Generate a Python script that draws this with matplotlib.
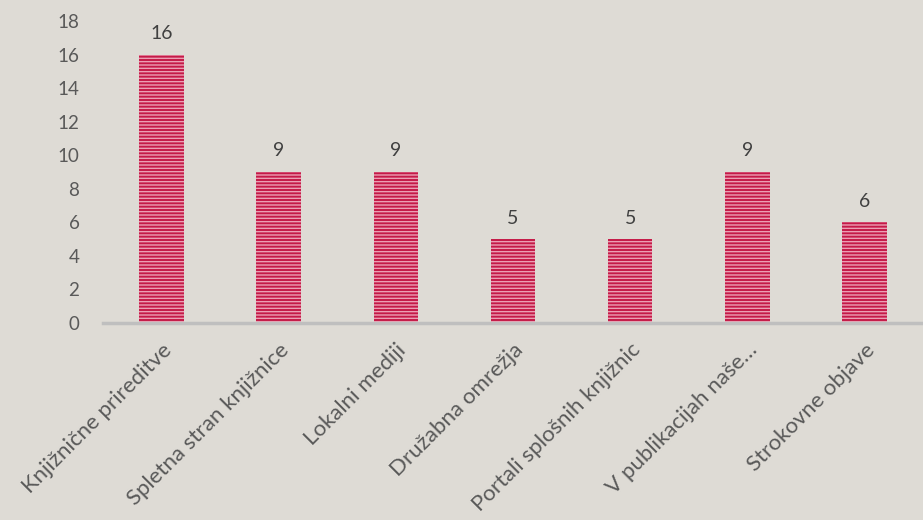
import matplotlib
matplotlib.use("Agg")
import matplotlib.pyplot as plt

plt.rcParams['font.family'] = ['Lato', 'DejaVu Sans']
plt.rcParams['hatch.linewidth'] = 1.0

categories = ["Knjižnične prireditve", "Spletna stran knjižnice", "Lokalni mediji",
              "Družabna omrežja", "Portali splošnih knjižnic",
              "V publikacijah naše…", "Strokovne objave"]
values = [16, 9, 9, 5, 5, 9, 6]
yticks = [0, 2, 4, 6, 8, 10, 12, 14, 16, 18]

bg = '#dedbd5'
fig = plt.figure(figsize=(9.23, 5.2), dpi=100, facecolor=bg)
ax = fig.add_axes([103 / 923, 197 / 520, 820 / 923, 302 / 520])
ax.set_facecolor(bg)

x = range(len(categories))
bars = ax.bar(x, values, width=0.38, color='#c41a48', edgecolor='#eb9fb3',
              linewidth=0, hatch='-----')

for xi, v in zip(x, values):
    ax.text(xi, v + 0.75, str(v), ha='center', va='bottom', fontsize=14, color='#404040')

ax.set_xlim(-0.5, len(categories) - 0.5)
ax.set_ylim(0, 18)
ax.set_yticks(yticks)
ax.set_yticklabels([str(t) for t in yticks], fontsize=13.5, color='#595959')
ax.set_xticks(list(x))
ax.set_xticklabels(categories, rotation=45, ha='right', rotation_mode='anchor',
                   fontsize=16, color='#595959')
ax.tick_params(axis='both', length=0)
ax.tick_params(axis='y', pad=17)
ax.tick_params(axis='x', pad=12)

for s in ['top', 'right', 'left']:
    ax.spines[s].set_visible(False)
ax.spines['bottom'].set_color('#bfbfbf')
ax.spines['bottom'].set_linewidth(2.5)

fig.savefig('out.png', dpi=100, facecolor=bg)
